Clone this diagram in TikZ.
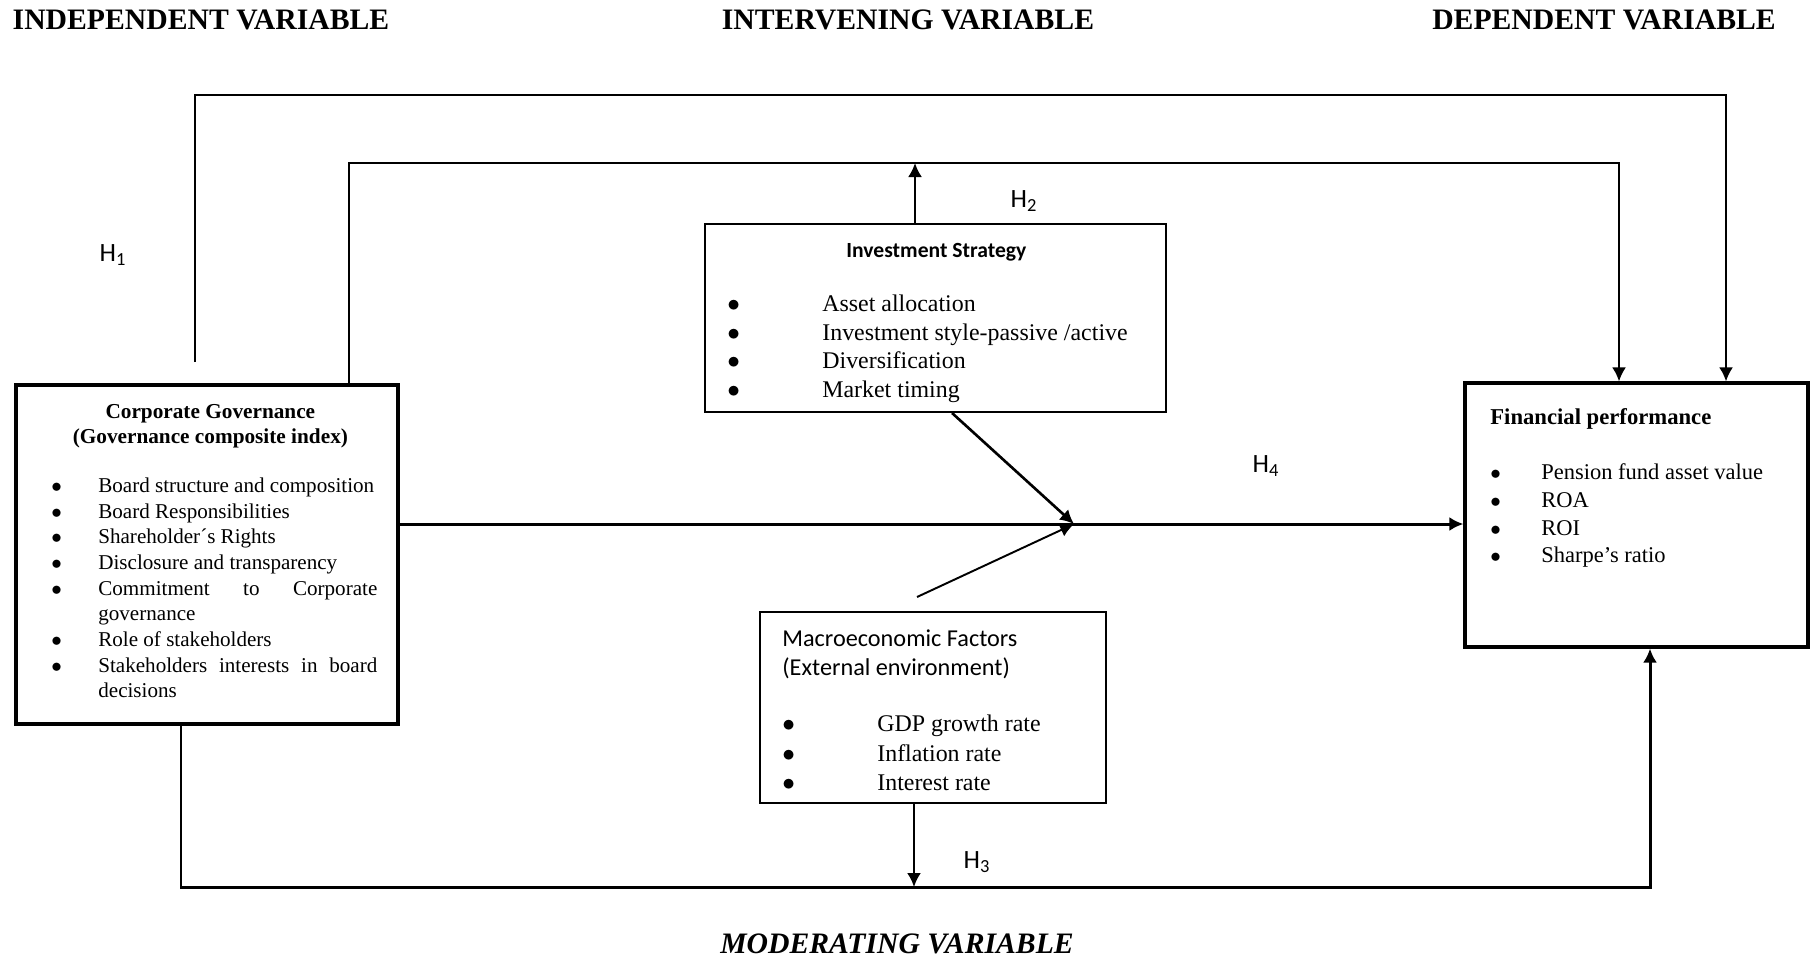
\documentclass[tikz,border=0pt]{standalone}
\usepackage{fontspec}
\setmainfont{Liberation Serif}
\newfontfamily\calibri{Carlito}
\usetikzlibrary{arrows.meta}

\hyphenpenalty=10000
\newlength\bulw
\newcommand{\bul}[1]{\par\noindent\hangindent=\bulw\hangafter=1\makebox[\bulw][l]{$\bullet$}#1}

\begin{document}
\begin{tikzpicture}[x=0.2mm, y=-0.2mm, >={Latex[length=2.8mm,width=2.8mm]},
  bigbox/.style={draw, rectangle, line width=1.8pt},
  txt/.style={anchor=north west, inner sep=0pt, align=justify},
  lnk/.style={line width=1.3pt},
  heavy/.style={line width=1.7pt},
  hlab/.style={font=\calibri\fontsize{15}{17}\selectfont},
  head/.style={font=\bfseries\fontsize{16.9}{19}\selectfont}]
\useasboundingbox (0,0) rectangle (1811,958);

% headings
\node[head] (hind) at (201,20) {INDEPENDENT VARIABLE};
\node[head] (hint) at (908,20) {INTERVENING VARIABLE};
\node[head] (hdep) at (1604,20) {DEPENDENT VARIABLE};
\node[head] (hmod) at (897,944) {\itshape MODERATING VARIABLE};

% boxes
\node[bigbox, minimum width=76.4mm, minimum height=67.8mm] (cg) at (207,554.5) {};
\node[draw, line width=1.1pt, minimum width=92.2mm, minimum height=37.6mm] (inv) at (935.5,318) {};
\node[draw, line width=0.6pt, minimum width=69.2mm, minimum height=38.2mm] (mac) at (933,707.5) {};
\node[bigbox, minimum width=68.6mm, minimum height=52.8mm] (fp) at (1636.5,515) {};

% box texts
\node[txt, text width=65.2mm, font=\fontsize{12}{14.6}\selectfont] (cgtxt) at (51,404)
  {\setlength\bulw{9.4mm}{\centering\rightskip=1.6mm plus 1fil\bfseries\fontsize{12.1}{14.4}\selectfont Corporate Governance\par(Governance composite index)\par}\vspace{13.2pt}%
   \bul{Board structure and composition}\bul{Board Responsibilities}\bul{Shareholder´s Rights}%
   \bul{Disclosure and transparency}\bul{Commitment to Corporate governance}%
   \bul{Role of stakeholders}\bul{Stakeholders interests in board decisions}\par};
\node[txt, text width=83.6mm, font=\fontsize{13.6}{16.4}\selectfont] (invtxt) at (727,243)
  {\setlength\bulw{19mm}{\centering\calibri\bfseries\fontsize{12.3}{16.4}\selectfont Investment Strategy\par}\vspace{14.2pt}%
   \bul{Asset allocation}\bul{Investment style-passive /active}\bul{Diversification}\bul{Market timing}\par};
\node[txt, text width=64mm, font=\fontsize{13.6}{16.7}\selectfont] (mactxt) at (782,629)
  {\setlength\bulw{19mm}{\calibri\fontsize{13.8}{17}\selectfont Macroeconomic Factors\par(External environment)\par}\vspace{15.2pt}%
   \bul{GDP growth rate}\bul{Inflation rate}\bul{Interest rate}\par};
\node[txt, text width=60mm, font=\fontsize{12.8}{15.9}\selectfont] (fptxt) at (1490,408)
  {\setlength\bulw{10.2mm}{\bfseries\fontsize{12.9}{15.9}\selectfont Financial performance\par}\vspace{15.3pt}%
   \bul{Pension fund asset value}\bul{ROA}\bul{ROI}\bul{Sharpe’s ratio}\par};

% H1
\coordinate (h1s) at (195,362);
\coordinate (h1c) at (1726,95);
\draw[->, lnk] (h1s) |- (h1c) -- (h1c |- fp.north);
\node[hlab] (h1) at (113,255) {H\textsubscript{1}};

% H2
\coordinate (h2l) at (349,163);
\coordinate (h2r) at (1619,163);
\coordinate (h2a) at (915,163);
\draw[->, lnk] (h2l |- cg.north) -- (h2l) -- (h2r) -- (h2r |- fp.north);
\draw[->, lnk] (h2a |- inv.north) -- (h2a);
\node[hlab] (h2) at (1024,201) {H\textsubscript{2}};

% H4
\coordinate (mid) at (1074,524);
\coordinate (d2) at (917,597);
\draw[->, heavy] (mid -| cg.east) -- (mid -| fp.west);
\draw[->, line width=1.5pt] ([xshift=3.3mm]inv.south) -- (mid);
\draw[->, line width=1.1pt] (d2) -- (mid);
\node[hlab] (h4) at (1266,466) {H\textsubscript{4}};

% H3
\coordinate (h3l) at (181,887);
\coordinate (h3r) at (1650,887);
\coordinate (h3a) at (914,887);
\draw[->, heavy] (h3l |- cg.south) -- (h3l) -- (h3r) -- (h3r |- fp.south);
\draw[->, lnk] (h3a |- mac.south) -- (h3a);
\node[hlab] (h3) at (977,862) {H\textsubscript{3}};
\end{tikzpicture}
\end{document}
